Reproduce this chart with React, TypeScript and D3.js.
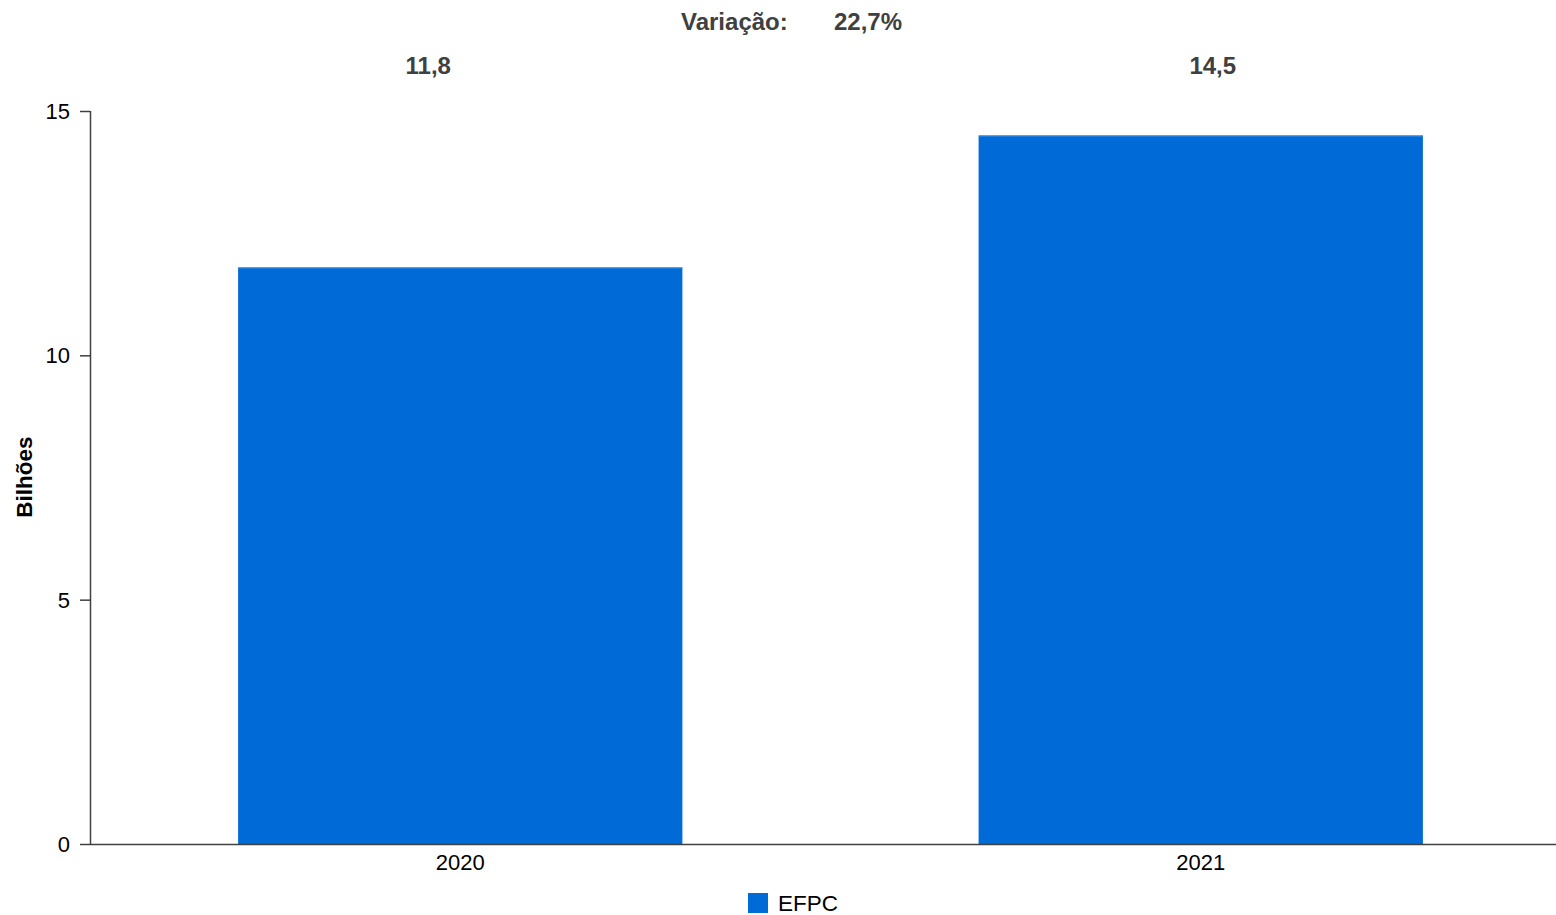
import React from "react";
import * as d3 from "d3";

const categories = ["2020", "2021"];
const values = [11.8, 14.5];
const valueLabels = ["11,8", "14,5"];
const yTicks = [0, 5, 10, 15];
const seriesName = "EFPC";
const variationLabel = "Variação:";
const variationValue = "22,7%";

const W = 1556;
const H = 915;
const FONT = "'Liberation Sans', Arial, sans-serif";
const BAR = "#006bd6";
const AXIS = "#404040";

export default function App() {
  const x = d3.scaleBand<string>().domain(categories).range([90, 1571]).paddingInner(0.4).paddingOuter(0.2);
  const y = d3.scaleLinear().domain([0, 15]).range([844, 111]);
  const labelOffsets = [-32, 12];
  return (
    <svg width={W} height={H} style={{ position: "absolute", left: 0, top: 0, background: "#fff" }} fontFamily={FONT}>
      <text x={681} y={30} fontSize={24} fontWeight="bold" fill={AXIS}>{variationLabel}</text>
      <text x={834} y={30} fontSize={24} fontWeight="bold" fill={AXIS}>{variationValue}</text>
      {categories.map((c, i) => (
        <g key={c}>
          <rect x={x(c)} y={y(values[i])} width={x.bandwidth()} height={y(0) - y(values[i])} fill={BAR} />
          <line x1={x(c)} x2={(x(c) as number) + x.bandwidth()} y1={y(values[i]) + 0.5} y2={y(values[i]) + 0.5} stroke="#4f9be6" strokeWidth={1} />
          <text x={(x(c) as number) + x.bandwidth() / 2 + labelOffsets[i]} y={74} textAnchor="middle" fontSize={24} fontWeight="bold" fill={AXIS}>{valueLabels[i]}</text>
          <text x={(x(c) as number) + x.bandwidth() / 2} y={870} textAnchor="middle" fontSize={22} fill="#000">{c}</text>
        </g>
      ))}
      <line x1={90.5} x2={90.5} y1={111} y2={844.5} stroke={AXIS} strokeWidth={1.5} />
      <line x1={90} x2={W} y1={844.5} y2={844.5} stroke={AXIS} strokeWidth={1.5} />
      {yTicks.map((t) => (
        <g key={t}>
          <line x1={80} x2={90} y1={y(t) + 0.5} y2={y(t) + 0.5} stroke={AXIS} strokeWidth={1.5} />
          <text x={70} y={y(t) + 8} textAnchor="end" fontSize={22} fill="#000">{t}</text>
        </g>
      ))}
      <text transform={`translate(32, 477) rotate(-90)`} textAnchor="middle" fontSize={22.5} fontWeight="bold" fill="#000">Bilhões</text>
      <rect x={748} y={893} width={20} height={20} fill={BAR} />
      <text x={778} y={911} fontSize={22.5} fill="#000">{seriesName}</text>
    </svg>
  );
}
